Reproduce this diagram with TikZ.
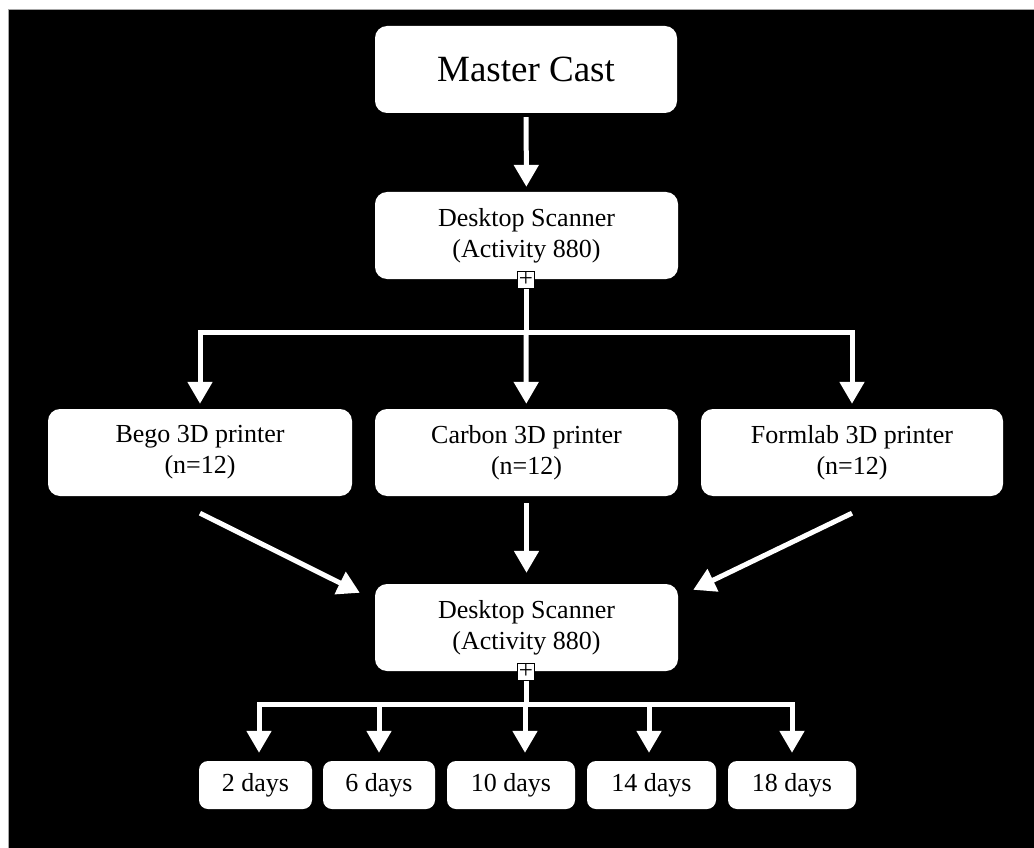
\documentclass[tikz,border=0pt]{standalone}
\usepackage{fontspec}
\setmainfont{Liberation Serif}
\usetikzlibrary{arrows.meta}

\begin{document}
\begin{tikzpicture}[
    x=1pt, y=-1pt,
    box/.style={fill=white, rounded corners=12pt, align=center, inner sep=0pt,
                minimum width=303pt, minimum height=87pt,
                font=\fontsize{26}{31}\selectfont},
    daybox/.style={box, rounded corners=9pt, minimum height=48pt},
    plus/.style={draw=black, fill=white, line width=1pt, minimum size=17pt, inner sep=0pt,
                 font=\fontsize{25}{25}\selectfont},
    line/.style={white, line width=5pt},
    arr/.style={line, -{Triangle[width=24pt,length=22pt]}}]
    % Hintergrund
    \useasboundingbox (0,0) rectangle (1034,848);
    \fill[white] (0,0) rectangle (1034,848);
    \fill[black] (8,10) rectangle (1034,848);
    \draw[gray!70, line width=1pt] (8,848) -- (8,10) -- (1034,10);

    % Knoten
    \node[box, minimum width=302pt, font=\fontsize{37}{44}\selectfont] (master) at (526,69.5) {Master Cast};
    \node[box] (scanA) at (526.5,235.5) {Desktop Scanner\\(Activity 880)};
    \node[plus] (plusA) at (526,279.5) {\raisebox{-1pt}{+}};

    \node[box, minimum width=304pt] (bego) at (200,452.5) {Bego 3D printer\\(n=12)};
    \node[box] (carbon) at (526.5,452.5) {Carbon 3D printer\\(n=12)};
    \node[box, minimum width=302pt] (formlab) at (852,452.5) {Formlab 3D printer\\(n=12)};

    \node[box] (scanB) at (526.5,627.5) {Desktop Scanner\\(Activity 880)};
    \node[plus] (plusB) at (526,671.5) {\raisebox{-1pt}{+}};

    \node[daybox, minimum width=113pt] (dA) at (255.5,785) {2 days};
    \node[daybox, minimum width=112pt] (dB) at (379,785) {6 days};
    \node[daybox, minimum width=128pt] (dC) at (511,785) {10 days};
    \node[daybox, minimum width=129pt] (dD) at (651.5,785) {14 days};
    \node[daybox, minimum width=128pt] (dE) at (792,785) {18 days};

    % Pfeile oben
    \draw[arr, shorten <=4pt, shorten >=5pt] (master) -- (scanA);
    \coordinate (busA) at (526,332);
    \draw[line] (plusA) -- (busA);
    \draw[arr, shorten >=5pt] (busA) -| (bego);
    \draw[arr, shorten >=5pt] (busA) -| (formlab);
    \draw[arr, shorten >=5pt] (busA) -- (carbon);

    % Pfeile Mitte
    \draw[arr] ([yshift=-17pt]bego.south) -- ([xshift=-15pt,yshift=-9pt]scanB.north west);
    \draw[arr, shorten <=7pt, shorten >=11pt] (carbon) -- (scanB);
    \draw[arr] ([yshift=-17pt]formlab.south) -- ([xshift=15pt,yshift=-6pt]scanB.north east);

    % Pfeile unten
    \coordinate (busB) at (526,704);
    \draw[line] (plusB) -- (busB);
    \draw[line, line cap=rect] (259,704) -- (792,704);
    \foreach \x/\d in {259/dA, 379/dB, 525/dC, 649/dD, 792/dE}
        \draw[arr, shorten >=8pt] (\x,704) -- (\d.north -| \x,0);
\end{tikzpicture}
\end{document}
